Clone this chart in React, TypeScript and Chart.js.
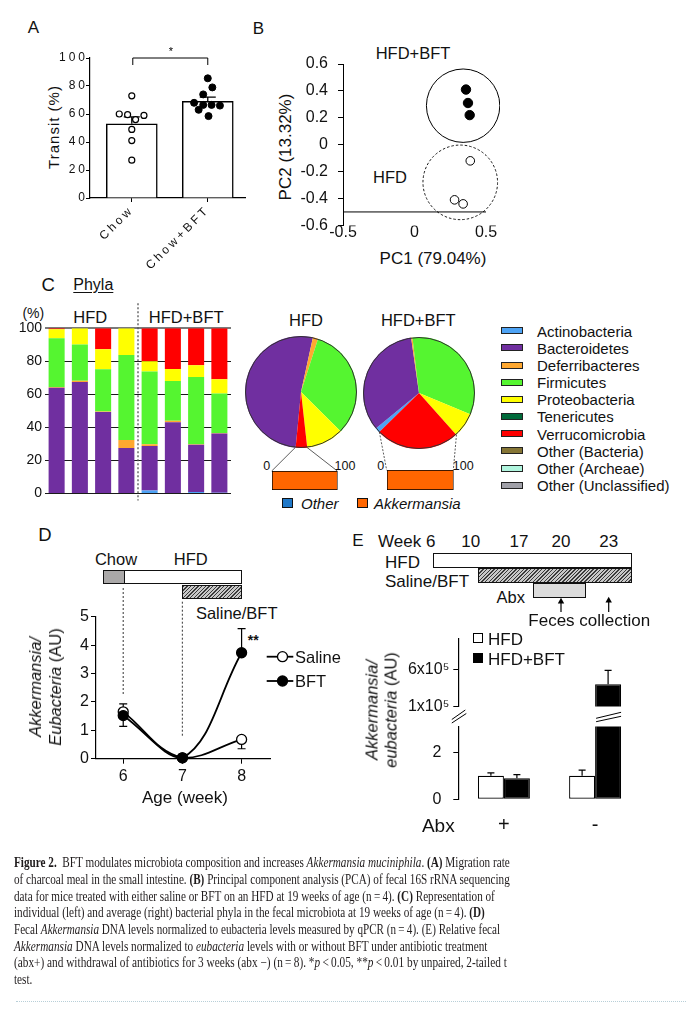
import React, { useEffect, useRef } from 'react';
import { Chart, registerables } from 'chart.js';

Chart.register(...registerables);

const SANS = '"Liberation Sans", Arial, Helvetica, sans-serif';
const SERIF = '"Liberation Serif", "Times New Roman", serif';
const INK = '#111111';
Chart.defaults.font.family = SANS;
Chart.defaults.color = INK;

// ---------------- DATA ----------------
// Panel A – transit (%)
const aCategories = ['Chow', 'Chow+BFT'];
const aMeans = [53, 69];
const aSem = [5, 3];
const aChowValues = [73, 60, 59.5, 56, 59, 49, 41, 27];
const aChowOffsets = [0, -0.165, -0.055, 0.05, 0.16, 0, 0, 0];
const aBftValues = [85.5, 74, 79, 68, 66.5, 66.5, 66, 63, 58.5];
const aBftOffsets = [0, -0.06, 0.06, -0.18, -0.06, 0.05, 0.16, -0.12, 0.01];
const aSignificance = [95, 100];

// Panel B – PCA
const bBftX = [0.36, 0.374, 0.386];
const bBftY = [0.41, 0.31, 0.22];
const bHfdX = [0.39, 0.28, 0.34];
const bHfdY = [-0.12, -0.41, -0.44];
const bClusterX = [0.34, 0.32];
const bClusterY = [0.29, -0.28];
const bAxisCross = -0.5;

// Panel C – phyla
const cSamples = ['HFD 1', 'HFD 2', 'HFD 3', 'HFD 4', 'HFD+BFT 1', 'HFD+BFT 2', 'HFD+BFT 3', 'HFD+BFT 4'];
const phyla = ['Actinobacteria', 'Bacteroidetes', 'Deferribacteres', 'Firmicutes', 'Proteobacteria', 'Tenericutes', 'Verrucomicrobia', 'Other (Bacteria)', 'Other (Archeae)', 'Other (Unclassified)'];
const phylaColors = ['#4da3f5', '#702fa0', '#ffa830', '#55f530', '#ffff00', '#006a3a', '#ff0000', '#857535', '#b0f5de', '#a0a0a8'];
const cActinobacteria = [0, 0, 0, 0, 1.8, 0.3, 1, 0.5];
const cBacteroidetes = [64, 67.5, 49.3, 27.6, 27, 42.8, 28.6, 35.9];
const cDeferribacteres = [0.5, 0.7, 0.4, 4.8, 1, 1, 0.3, 0.2];
const cFirmicutes = [29.5, 22, 25.6, 51.5, 44, 24, 40.7, 24];
const cProteobacteria = [5.5, 9.8, 12, 16.1, 6.2, 7.3, 7.1, 8.6];
const cTenericutes = [0, 0, 0, 0, 0, 0, 0, 0];
const cVerrucomicrobia = [0.5, 0, 12.7, 0, 20, 24.6, 22.3, 30.8];
const cOtherBacteria = [0, 0, 0, 0, 0, 0, 0, 0];
const cOtherArchaea = [0, 0, 0, 0, 0, 0, 0, 0];
const cOtherUnclassified = [0, 0, 0, 0, 0, 0, 0, 0];
const pieHfd = [0, 51.9, 1.5, 32.5, 10.8, 0, 3.3, 0, 0, 0];
const pieHfdBft = [1.4, 33.7, 0.4, 33.1, 7.2, 0, 24.2, 0, 0, 0];
const VERRUCO = 6;
const akkLabels = ['Verrucomicrobia'];
const akkHfdOther = [0];
const akkHfdAkkermansia = [100];
const akkBftOther = [0];
const akkBftAkkermansia = [100];

// Panel D – Akkermansia/Eubacteria by age
const dWeeks = [6, 7, 8];
const dSaline = [1.65, 0.03, 0.68];
const dSalineErr = [0.28, 0, 0.33];
const dSalineErrDir = [1, 0, -1];
const dBft = [1.52, 0.03, 3.73];
const dBftErr = [0.38, 0, 0.85];
const dBftErrDir = [-1, 0, 1];
const dXTicks = [6, 7, 8];
const dGuideTop = [2.25, 0.77];

// Panel E – Abx
const eGroups = ['+', '-'];
const eHfd = [1.0, 1.0];
const eHfdErr = [0.13, 0.24];
const eBft = [0.9, 400000];
const eBftErr = [0.15, 190000];
const eLowTicks = [0, 2];
const eHighTicks = [100000, 600000];
const eHighLabels = ['1x10\u2075', '6x10\u2075'];

// ---------------- LAYOUT ----------------
const BOX_A = { left: 20, top: 40, w: 235, h: 232 };
const BOX_B = { left: 250, top: 40, w: 250, h: 205 };
const BOX_C = { left: 0, top: 300, w: 240, h: 205 };
const BOX_P1 = { left: 244.7, top: 335.7, w: 112, h: 112 };
const BOX_P2 = { left: 363.3, top: 336.7, w: 112, h: 112 };
const BOX_K1 = { left: 269.7, top: 469, w: 70, h: 23 };
const BOX_K2 = { left: 384.7, top: 468.3, w: 71, h: 24 };
const BOX_D = { left: 20, top: 580, w: 260, h: 220 };
const BOX_EU = { left: 380, top: 625, w: 265, h: 95 };
const BOX_EL = { left: 380, top: 705, w: 265, h: 135 };

const fixW = (w: number) => (s: any) => { s.width = w; };
const fixH = (h: number) => (s: any) => { s.height = h; };
const noPlug = { legend: { display: false }, tooltip: { enabled: false } };

function drawErrors(chart: any, ds: number, values: number[], errs: number[], dirs: number[] | null, cap: number, lw = 1.2) {
  const meta = chart.getDatasetMeta(ds);
  const ys = chart.scales[meta.yAxisID];
  const ctx = chart.ctx;
  ctx.save();
  ctx.strokeStyle = '#000';
  ctx.lineWidth = lw;
  ctx.setLineDash([]);
  meta.data.forEach((el: any, i: number) => {
    const v = values[i];
    const e = errs[i];
    const d = dirs ? dirs[i] : 1;
    if (!e || !d) return;
    if (v < ys.min || v > ys.max) return;
    const y0 = ys.getPixelForValue(v);
    const y1 = ys.getPixelForValue(v + d * e);
    ctx.beginPath();
    ctx.moveTo(el.x, y0);
    ctx.lineTo(el.x, y1);
    ctx.moveTo(el.x - cap, y1);
    ctx.lineTo(el.x + cap, y1);
    ctx.stroke();
  });
  ctx.restore();
}

function Txt(p: any) {
  const tx = p.anchor === 'start' ? '0%' : p.anchor === 'end' ? '-100%' : '-50%';
  return (
    <div
      style={{
        position: 'absolute', left: p.x, top: p.y, whiteSpace: 'nowrap', lineHeight: 1,
        fontSize: p.size || 16, color: INK, fontFamily: SANS,
        transform: `translate(${tx}, -50%) rotate(${p.rot || 0}deg)`,
        ...(p.style || {}),
      }}
    >
      {p.children}
    </div>
  );
}

const Cv = ({ r, b }: any) => (
  <canvas ref={r} width={b.w} height={b.h} style={{ position: 'absolute', left: b.left, top: b.top, width: b.w, height: b.h }} />
);

const capTargets = [496, 496, 481, 471, 486, 473, 493];

export default function App() {
  const rA = useRef<any>(null);
  const rB = useRef<any>(null);
  const rC = useRef<any>(null);
  const rP1 = useRef<any>(null);
  const rP2 = useRef<any>(null);
  const rK1 = useRef<any>(null);
  const rK2 = useRef<any>(null);
  const rD = useRef<any>(null);
  const rEu = useRef<any>(null);
  const rEl = useRef<any>(null);
  const rO = useRef<any>(null);
  const capRefs = useRef<any[]>([]);

  useEffect(() => {
    const charts: any[] = [];
    const make = (cv: any, cfg: any) => { const ch = new Chart(cv, cfg); charts.push(ch); return ch; };

    // ---------- A ----------
    make(rA.current, {
      type: 'bar',
      data: {
        datasets: [
          { type: 'bar', data: aMeans.map((y, i) => ({ x: i, y })), backgroundColor: '#fff', borderColor: '#000', borderWidth: 1.5, barThickness: 51, grouped: false, order: 2 },
          { type: 'scatter', data: aChowValues.map((y, i) => ({ x: 0 + aChowOffsets[i], y })), pointRadius: 3, pointBackgroundColor: '#fff', pointBorderColor: '#000', pointBorderWidth: 1.2, order: 1 },
          { type: 'scatter', data: aBftValues.map((y, i) => ({ x: 1 + aBftOffsets[i], y })), pointRadius: 3.5, pointBackgroundColor: '#000', pointBorderColor: '#000', pointBorderWidth: 1, order: 0 },
        ],
      },
      options: {
        responsive: false, animation: false, events: [],
        layout: { padding: { top: 18, right: 10, left: 0, bottom: 0 } },
        scales: {
          x: {
            type: 'linear', offset: false, min: -0.55, max: 1.49,
            afterBuildTicks: (s: any) => { s.ticks = aCategories.map((_, i) => ({ value: i })); },
            grid: { drawOnChartArea: false, offset: false, tickLength: 4, color: '#000' },
            border: { color: '#000', width: 1.2 },
            ticks: { minRotation: 45, maxRotation: 45, autoSkip: false, font: { size: 12 }, color: INK, padding: 1, callback: (v: any) => aCategories[Math.round(Number(v))] },
            afterFit: fixH(74),
          },
          y: {
            min: 0, max: 100,
            ticks: { stepSize: 20, font: { size: 12 }, color: INK, padding: -2 },
            grid: { drawOnChartArea: false, tickLength: 4, color: '#000' },
            border: { color: '#000', width: 1.2 },
            afterFit: fixW(70),
          },
        },
        plugins: noPlug,
      },
      plugins: [
        { id: 'ls', beforeDraw(c: any) { c.ctx.letterSpacing = '3px'; } },
        { id: 'errA', afterDatasetDraw(c: any, args: any) { if (args.index === 0) drawErrors(c, 0, aMeans, aSem, null, 8, 1.3); } },
        {
          id: 'bracket',
          afterDraw(c: any) {
            const ctx = c.ctx;
            const x0 = c.scales.x.getPixelForValue(0);
            const x1 = c.scales.x.getPixelForValue(1);
            const yl = c.scales.y.getPixelForValue(aSignificance[0]);
            const yh = c.scales.y.getPixelForValue(aSignificance[1]);
            ctx.save();
            ctx.letterSpacing = '0px';
            ctx.strokeStyle = '#000'; ctx.lineWidth = 1;
            ctx.beginPath(); ctx.moveTo(x0 + 1, yl); ctx.lineTo(x0 + 1, yh); ctx.lineTo(x1, yh); ctx.lineTo(x1, yl); ctx.stroke();
            ctx.fillStyle = '#000'; ctx.font = `11px ${SANS}`; ctx.textAlign = 'center'; ctx.textBaseline = 'bottom';
            ctx.fillText('*', (x0 + x1) / 2 + 1, yh - 0.5);
            ctx.restore();
            ctx.letterSpacing = '0px';
          },
        },
      ],
    });

    // ---------- B ----------
    const fmt1 = (v: any) => String(Math.round(Number(v) * 10) / 10);
    make(rB.current, {
      type: 'scatter',
      data: {
        datasets: [
          { data: bBftX.map((x, i) => ({ x, y: bBftY[i] })), pointRadius: 4.7, pointBackgroundColor: '#000', pointBorderColor: '#000' },
          { data: bHfdX.map((x, i) => ({ x, y: bHfdY[i] })), pointRadius: 4.3, pointBackgroundColor: '#fff', pointBorderColor: '#000', pointBorderWidth: 1 },
        ],
      },
      options: {
        responsive: false, animation: false, events: [],
        layout: { padding: { top: 24, right: 14, left: 0, bottom: 0 } },
        scales: {
          x: {
            type: 'linear', min: -0.5, max: 0.5,
            ticks: { stepSize: 0.5, font: { size: 16 }, color: INK, padding: -2, callback: fmt1 },
            grid: { display: false, drawTicks: false }, border: { display: false },
            afterFit: fixH(19),
          },
          y: {
            min: -0.6, max: 0.6,
            ticks: { stepSize: 0.2, font: { size: 16 }, color: INK, padding: 10, callback: fmt1 },
            grid: { drawOnChartArea: false, tickLength: 5, color: '#000' },
            border: { color: '#000', width: 1 },
            afterFit: fixW(93),
          },
        },
        plugins: noPlug,
      },
      plugins: [{
        id: 'clusters',
        beforeDatasetsDraw(c: any) {
          const ctx = c.ctx; const xs = c.scales.x; const ys = c.scales.y;
          ctx.save();
          ctx.strokeStyle = '#000'; ctx.lineWidth = 1;
          const yAx = ys.getPixelForValue(bAxisCross);
          ctx.beginPath(); ctx.moveTo(c.chartArea.left, yAx); ctx.lineTo(c.chartArea.right, yAx); ctx.stroke();
          ctx.beginPath(); ctx.arc(xs.getPixelForValue(bClusterX[0]), ys.getPixelForValue(bClusterY[0]), 36.7, 0, Math.PI * 2); ctx.stroke();
          ctx.setLineDash([2.5, 2]); ctx.lineWidth = 0.9;
          ctx.beginPath(); ctx.arc(xs.getPixelForValue(bClusterX[1]), ys.getPixelForValue(bClusterY[1]), 37.3, 0, Math.PI * 2); ctx.stroke();
          ctx.restore();
        },
      }],
    });

    // ---------- C bars ----------
    const phylaSeries = [cActinobacteria, cBacteroidetes, cDeferribacteres, cFirmicutes, cProteobacteria, cTenericutes, cVerrucomicrobia, cOtherBacteria, cOtherArchaea, cOtherUnclassified];
    make(rC.current, {
      type: 'bar',
      data: {
        labels: cSamples,
        datasets: phylaSeries.map((d, i) => ({ label: phyla[i], data: d, backgroundColor: phylaColors[i], borderWidth: 0, barPercentage: 0.69, categoryPercentage: 1 })),
      },
      options: {
        responsive: false, animation: false, events: [],
        layout: { padding: { top: 28.3, right: 9, bottom: 9, left: 0 } },
        scales: {
          x: { stacked: true, display: false },
          y: {
            stacked: true, min: 0, max: 100,
            ticks: { stepSize: 20, font: { size: 14 }, color: INK, padding: 3 },
            grid: {
              drawTicks: false,
              color: (ctx: any) => (ctx.tick && ctx.tick.value === 100 ? '#7a7a7a' : '#1a1a1a'),
              lineWidth: (ctx: any) => (ctx.tick && ctx.tick.value === 100 ? 2 : 1),
            },
            border: { display: false },
            afterFit: fixW(45),
          },
        },
        plugins: noPlug,
      },
      plugins: [{
        id: 'divider',
        afterDatasetsDraw(c: any) {
          const xs = c.scales.x;
          const x = (xs.getPixelForValue(3) + xs.getPixelForValue(4)) / 2;
          const ctx = c.ctx;
          ctx.save(); ctx.strokeStyle = '#555'; ctx.lineWidth = 1.3; ctx.setLineDash([2, 2]);
          ctx.beginPath(); ctx.moveTo(x, c.chartArea.top - 25); ctx.lineTo(x, c.chartArea.bottom + 7); ctx.stroke();
          ctx.restore();
        },
      }],
    });

    // ---------- C pies ----------
    const pieOutline = {
      id: 'pieOutline',
      afterDatasetsDraw(c: any) {
        const arc = c.getDatasetMeta(0).data[0];
        const ctx = c.ctx;
        ctx.save(); ctx.beginPath(); ctx.arc(arc.x, arc.y, arc.outerRadius - 0.5, 0, Math.PI * 2);
        ctx.strokeStyle = '#333'; ctx.lineWidth = 1; ctx.stroke(); ctx.restore();
      },
    };
    const pieCfg = (vals: number[], rot: number) => ({
      type: 'pie',
      data: { labels: phyla, datasets: [{ data: vals, backgroundColor: phylaColors, borderWidth: 0 }] },
      options: { responsive: false, animation: false, events: [], rotation: rot, layout: { padding: 0 }, plugins: noPlug },
      plugins: [pieOutline],
    });
    const p1 = make(rP1.current, pieCfg(pieHfd, 185.5));
    const p2 = make(rP2.current, pieCfg(pieHfdBft, 225.5));

    const akkCfg = (other: number[], akk: number[], pad: any) => ({
      type: 'bar',
      data: {
        labels: akkLabels,
        datasets: [
          { label: 'Other', data: other, backgroundColor: '#1f78c8', borderColor: '#000', borderWidth: 1, borderSkipped: false, barPercentage: 1, categoryPercentage: 1 },
          { label: 'Akkermansia', data: akk, backgroundColor: '#ff6600', borderColor: '#000', borderWidth: 1, borderSkipped: false, barPercentage: 1, categoryPercentage: 1 },
        ],
      },
      options: {
        indexAxis: 'y', responsive: false, animation: false, events: [],
        layout: { padding: pad },
        scales: { x: { stacked: true, min: 0, max: 100, display: false }, y: { stacked: true, display: false } },
        plugins: noPlug,
      },
    });
    const k1 = make(rK1.current, akkCfg(akkHfdOther, akkHfdAkkermansia, { left: 2, right: 2.4, top: 2, bottom: 2 }));
    const k2 = make(rK2.current, akkCfg(akkBftOther, akkBftAkkermansia, { left: 2, right: 2.4, top: 2, bottom: 2 }));

    // ---------- D ----------
    const dChart = make(rD.current, {
      type: 'line',
      data: {
        datasets: [
          { label: 'Saline', order: 1, data: dWeeks.map((x, i) => ({ x, y: dSaline[i] })), borderColor: '#000', borderWidth: 1.8, tension: 0.4, pointRadius: 5, pointBackgroundColor: '#fff', pointBorderColor: '#000', pointBorderWidth: 1.3, clip: { left: 10, right: 10, top: 10, bottom: 6 } },
          { label: 'BFT', order: 0, data: dWeeks.map((x, i) => ({ x, y: dBft[i] })), borderColor: '#000', borderWidth: 1.8, tension: 0.4, pointRadius: 5, pointBackgroundColor: '#000', pointBorderColor: '#000', pointBorderWidth: 1.3, clip: { left: 10, right: 10, top: 10, bottom: 6 } },
        ],
      },
      options: {
        responsive: false, animation: false, events: [],
        layout: { padding: { top: 36.7, right: 10, left: 0, bottom: 0 } },
        scales: {
          x: {
            type: 'linear', min: 5.54, max: 8.48,
            afterBuildTicks: (s: any) => { s.ticks = dXTicks.map((v) => ({ value: v })); },
            ticks: { font: { size: 16 }, color: INK, padding: 3 },
            grid: { drawOnChartArea: false, tickLength: 5, color: '#000' },
            border: { color: '#000', width: 1.2 },
            afterFit: fixH(41.3),
          },
          y: {
            min: 0, max: 5,
            ticks: { stepSize: 1, font: { size: 16 }, color: INK, padding: 2 },
            grid: { drawOnChartArea: false, tickLength: 5, color: '#000' },
            border: { color: '#000', width: 1.2 },
            afterFit: fixW(76),
          },
        },
        plugins: noPlug,
      },
      plugins: [{
        id: 'errD',
        beforeDatasetsDraw(c: any) {
          drawErrors(c, 0, dSaline, dSalineErr, dSalineErrDir, 4, 1.2);
          drawErrors(c, 1, dBft, dBftErr, dBftErrDir, 4, 1.2);
        },
      }],
    });

    // ---------- E ----------
    const eDatasets = (clip: any) => [
      { label: 'HFD', data: eHfd, backgroundColor: '#fff', borderColor: '#000', borderWidth: 1.2, borderSkipped: false, barPercentage: 1, categoryPercentage: 0.57, clip },
      { label: 'HFD+BFT', data: eBft, backgroundColor: '#000', borderColor: '#000', borderWidth: 1.2, borderSkipped: false, barPercentage: 1, categoryPercentage: 0.57, clip },
    ];
    make(rEu.current, {
      type: 'bar',
      data: { labels: eGroups, datasets: eDatasets({ left: 5, right: 5, top: 5, bottom: 0 }) },
      options: {
        responsive: false, animation: false, events: [],
        layout: { padding: { top: 10, right: 4.3, bottom: 13.3, left: 0 } },
        scales: {
          x: { display: false },
          y: {
            min: 100000, max: 1020000,
            afterBuildTicks: (s: any) => { s.ticks = eHighTicks.map((v) => ({ value: v })); },
            ticks: { font: { size: 16 }, color: INK, padding: 4, callback: (v: any) => eHighLabels[eHighTicks.indexOf(Number(v))] },
            grid: { drawOnChartArea: false, tickLength: 5, color: '#000' },
            border: { color: '#000', width: 1.2 },
            afterFit: fixW(78.3),
          },
        },
        plugins: noPlug,
      },
      plugins: [{ id: 'errEu', afterDatasetsDraw(c: any) { drawErrors(c, 0, eHfd, eHfdErr, null, 3.5); drawErrors(c, 1, eBft, eBftErr, null, 3.5); } }],
    });
    const eLow = make(rEl.current, {
      type: 'bar',
      data: { labels: eGroups, datasets: eDatasets({ left: 5, right: 5, top: 0, bottom: 2 }) },
      options: {
        responsive: false, animation: false, events: [],
        layout: { padding: { top: 16.7, right: 4.3, bottom: 0, left: 0 } },
        scales: {
          x: {
            grid: { display: false, drawTicks: false }, border: { display: false },
            ticks: { font: { size: 20 }, color: INK, padding: 14 },
            afterFit: fixH(40.7),
          },
          y: {
            min: 0, max: 3.1,
            afterBuildTicks: (s: any) => { s.ticks = eLowTicks.map((v) => ({ value: v })); },
            ticks: { font: { size: 16 }, color: INK, padding: 12 },
            grid: { drawOnChartArea: false, tickLength: 5, color: '#000' },
            border: { color: '#000', width: 1.2 },
            afterFit: fixW(78.3),
          },
        },
        plugins: noPlug,
      },
      plugins: [{ id: 'errEl', afterDatasetsDraw(c: any) { drawErrors(c, 0, eHfd, eHfdErr, null, 3.5); drawErrors(c, 1, eBft, eBftErr, null, 3.5); } }],
    });

    // ---------- overlay ----------
    const ov = rO.current;
    const dpr = window.devicePixelRatio || 1;
    ov.width = 686 * dpr; ov.height = 1012 * dpr;
    const g = ov.getContext('2d');
    g.setTransform(dpr, 0, 0, dpr, 0, 0);
    g.clearRect(0, 0, 686, 1012);
    const seg = (x1: number, y1: number, x2: number, y2: number) => { g.beginPath(); g.moveTo(x1, y1); g.lineTo(x2, y2); g.stroke(); };
    const connect = (pie: any, pb: any, bar: any, bb: any, dash: boolean) => {
      const arc = pie.getDatasetMeta(0).data[VERRUCO];
      const r = arc.outerRadius;
      const sx = pb.left + arc.x + r * Math.cos(arc.startAngle);
      const sy = pb.top + arc.y + r * Math.sin(arc.startAngle);
      const ex = pb.left + arc.x + r * Math.cos(arc.endAngle);
      const ey = pb.top + arc.y + r * Math.sin(arc.endAngle);
      const xs = bar.scales.x;
      const top = bb.top + bar.chartArea.top;
      g.save(); g.strokeStyle = '#333'; g.lineWidth = 0.8; g.setLineDash(dash ? [2, 1.5] : []);
      seg(ex, ey, bb.left + xs.getPixelForValue(0), top);
      seg(sx, sy, bb.left + xs.getPixelForValue(100), top);
      g.restore();
    };
    connect(p1, BOX_P1, k1, BOX_K1, false);
    connect(p2, BOX_P2, k2, BOX_K2, true);

    // D guide lines
    g.save(); g.strokeStyle = '#555'; g.lineWidth = 1.2; g.setLineDash([2, 2]);
    seg(BOX_D.left + dChart.scales.x.getPixelForValue(dXTicks[0]), 588, BOX_D.left + dChart.scales.x.getPixelForValue(dXTicks[0]), BOX_D.top + dChart.scales.y.getPixelForValue(dGuideTop[0]));
    seg(BOX_D.left + dChart.scales.x.getPixelForValue(dXTicks[1]), 601.7, BOX_D.left + dChart.scales.x.getPixelForValue(dXTicks[1]), BOX_D.top + dChart.scales.y.getPixelForValue(dGuideTop[1]));
    g.restore();

    // E axis break
    const ax = BOX_EL.left + eLow.chartArea.left;
    const el = eLow.getDatasetMeta(1).data[1];
    const bx0 = BOX_EL.left + el.x - el.width / 2;
    const bx1 = BOX_EL.left + el.x + el.width / 2;
    g.save(); g.strokeStyle = '#000'; g.lineWidth = 1;
    seg(ax - 6.5, 719.5, ax + 7, 710); seg(ax - 6.5, 723, ax + 8, 713.5);
    seg(bx0 + 1, 718.3, bx1, 712.3); seg(bx0 + 1, 721.7, bx1, 716.3);
    g.restore();

    // caption fitting
    const scales: number[] = [];
    capRefs.current.forEach((d: any, i: number) => {
      if (!d || i >= capTargets.length) return;
      const w = d.offsetWidth;
      const s = capTargets[i] / w;
      scales.push(s);
      d.style.transform = `translateY(-50%) scaleX(${s})`;
    });
    const avg = scales.reduce((a, b) => a + b, 0) / Math.max(scales.length, 1);
    const last = capRefs.current[capTargets.length];
    if (last) last.style.transform = `translateY(-50%) scaleX(${avg})`;

    return () => { charts.forEach((c) => c.destroy()); };
  }, []);

  const hatch = 'repeating-linear-gradient(135deg, #3a3a3a 0px, #3a3a3a 1px, #c8c8c8 1px, #c8c8c8 2.6px)';
  const dots = 'radial-gradient(circle, #8a8a8a 0.45px, transparent 0.6px)';
  const boxSt = (l: number, t: number, w: number, h: number, bg: string, extra: any = {}) => ({
    position: 'absolute' as const, left: l, top: t, width: w, height: h, boxSizing: 'border-box' as const,
    border: '1px solid #111', background: bg, ...extra,
  });

  const captionLines = [
    <><b>Figure 2.</b>{'\u2002'}BFT modulates microbiota composition and increases <i>Akkermansia muciniphila</i>. <b>(A)</b> Migration rate</>,
    <>of charcoal meal in the small intestine. <b>(B)</b> Principal component analysis (PCA) of fecal 16S rRNA sequencing</>,
    <>data for mice treated with either saline or BFT on an HFD at 19 weeks of age (n{'\u2009'}={'\u2009'}4). <b>(C)</b> Representation of</>,
    <>individual (left) and average (right) bacterial phyla in the fecal microbiota at 19 weeks of age (n{'\u2009'}={'\u2009'}4). <b>(D)</b></>,
    <>Fecal <i>Akkermansia</i> DNA levels normalized to eubacteria levels measured by qPCR (n{'\u2009'}={'\u2009'}4). (E) Relative fecal</>,
    <><i>Akkermansia</i> DNA levels normalized to <i>eubacteria</i> levels with or without BFT under antibiotic treatment</>,
    <>(abx+) and withdrawal of antibiotics for 3 weeks (abx {'\u2212'}) (n{'\u2009'}={'\u2009'}8). *<i>p</i>{'\u2009'}&lt;{'\u2009'}0.05, **<i>p</i>{'\u2009'}&lt;{'\u2009'}0.01 by unpaired, 2-tailed t</>,
    <>test.</>,
  ];

  return (
    <div style={{ position: 'absolute', left: 0, top: 0, width: 686, height: 1012, background: '#fff', overflow: 'hidden', fontFamily: SANS, color: INK }}>
      {/* ---- A ---- */}
      <Txt x={33.3} y={27} size={17}>A</Txt>
      <Txt x={53.3} y={126.7} size={15} rot={-90} style={{ letterSpacing: '1px' }}>Transit (%)</Txt>
      <Cv r={rA} b={BOX_A} />

      {/* ---- B ---- */}
      <Txt x={258.3} y={28.3} size={17}>B</Txt>
      <Txt x={413} y={53} size={16.5}>HFD+BFT</Txt>
      <Txt x={390} y={177} size={16.5}>HFD</Txt>
      <Txt x={285} y={147} size={17} rot={-90}>PC2 (13.32%)</Txt>
      <Txt x={433} y={258} size={17}>PC1 (79.04%)</Txt>
      <Cv r={rB} b={BOX_B} />

      {/* ---- C ---- */}
      <Txt x={48.3} y={285} size={18.5}>C</Txt>
      <Txt x={93.3} y={285} size={16} style={{ textDecoration: 'underline', textUnderlineOffset: '2px' }}>Phyla</Txt>
      <Txt x={33.3} y={313.3} size={14}>(%)</Txt>
      <Txt x={90.3} y={316.7} size={16.5}>HFD</Txt>
      <Txt x={186.2} y={316.7} size={16.5}>HFD+BFT</Txt>
      <Cv r={rC} b={BOX_C} />
      <Txt x={306} y={320} size={16.5}>HFD</Txt>
      <Txt x={418.3} y={320} size={16.5}>HFD+BFT</Txt>
      <Cv r={rP1} b={BOX_P1} />
      <Cv r={rP2} b={BOX_P2} />
      <Txt x={266.7} y={465.7} size={12.5}>0</Txt>
      <Txt x={345} y={465.7} size={12.5}>100</Txt>
      <Txt x={380.7} y={465.7} size={12.5}>0</Txt>
      <Txt x={463.3} y={465.7} size={12.5}>100</Txt>
      <Cv r={rK1} b={BOX_K1} />
      <Cv r={rK2} b={BOX_K2} />
      <div style={boxSt(281.7, 498.3, 11.6, 10, '#1f78c8')} />
      <Txt x={301} y={503.3} size={15} anchor="start" style={{ fontStyle: 'italic' }}>Other</Txt>
      <div style={boxSt(356.7, 498.3, 11.6, 10, '#ff6600')} />
      <Txt x={374} y={503.3} size={15} anchor="start" style={{ fontStyle: 'italic' }}>Akkermansia</Txt>
      {phyla.map((name, i) => (
        <React.Fragment key={name}>
          <div style={boxSt(501, 327.3 + i * 17.15, 22, 7, phylaColors[i], { border: '1px solid #222' })} />
          <Txt x={537} y={330.7 + i * 17.15} size={15} anchor="start">{name}</Txt>
        </React.Fragment>
      ))}

      {/* ---- D ---- */}
      <Txt x={45} y={535} size={18.5}>D</Txt>
      <Txt x={116} y={559.3} size={16.5}>Chow</Txt>
      <Txt x={190.7} y={559.3} size={16.5}>HFD</Txt>
      <div style={boxSt(103.3, 570, 21.5, 14.3, '#aaa8a8')} />
      <div style={boxSt(123.8, 570, 118.5, 14.3, '#fff')} />
      <div style={boxSt(182.3, 585, 59.4, 14.3, hatch)} />
      <Txt x={236.7} y={613.3} size={16.5}>Saline/BFT</Txt>
      <Txt x={253.3} y={640} size={14} style={{ fontWeight: 'bold' }}>**</Txt>
      <Cv r={rD} b={BOX_D} />
      <div style={{ position: 'absolute', left: 45, top: 686.7, transform: 'translate(-50%, -50%) rotate(-90deg)', whiteSpace: 'nowrap', fontSize: 16.5, lineHeight: '20px', textAlign: 'center', color: INK }}>
        <div><i>Akkermansia/</i></div>
        <div><i>Eubacteria</i> (AU)</div>
      </div>
      <Txt x={185} y={796.7} size={17}>Age (week)</Txt>
      <svg style={{ position: 'absolute', left: 264, top: 645 }} width={32} height={46}>
        <line x1={2.7} y1={11.7} x2={29.3} y2={11.7} stroke="#000" strokeWidth={1.8} />
        <circle cx={18.5} cy={11.7} r={5} fill="#fff" stroke="#000" strokeWidth={1.3} />
        <line x1={2.7} y1={36} x2={29.3} y2={36} stroke="#000" strokeWidth={1.8} />
        <circle cx={18.5} cy={36} r={5} fill="#000" stroke="#000" strokeWidth={1.3} />
      </svg>
      <Txt x={295} y={656.7} size={16.5} anchor="start">Saline</Txt>
      <Txt x={295} y={681} size={16.5} anchor="start">BFT</Txt>

      {/* ---- E ---- */}
      <Txt x={358} y={540} size={17}>E</Txt>
      <Txt x={406.7} y={540.7} size={17}>Week 6</Txt>
      <Txt x={470.7} y={540.7} size={17}>10</Txt>
      <Txt x={519} y={540.7} size={17}>17</Txt>
      <Txt x={561} y={540.7} size={17}>20</Txt>
      <Txt x={608.7} y={540.7} size={17}>23</Txt>
      <Txt x={385} y={561.7} size={17} anchor="start">HFD</Txt>
      <div style={boxSt(433.3, 553.3, 198.4, 14.4, '#fff')} />
      <Txt x={385} y={581} size={17} anchor="start">Saline/BFT</Txt>
      <div style={boxSt(478.3, 568.3, 154, 15, hatch)} />
      <Txt x={510.8} y={597.3} size={16.5}>Abx</Txt>
      <div style={boxSt(533.3, 583.3, 52.7, 15, `${dots} 0 0 / 2px 2px, #dcdcdc`)} />
      <svg style={{ position: 'absolute', left: 0, top: 0, pointerEvents: 'none' }} width={686} height={1012}>
        <line x1={561} y1={612} x2={561} y2={602} stroke="#000" strokeWidth={1.2} />
        <polygon points="557.8,603.5 564.2,603.5 561,597.8" fill="#000" />
        <line x1={608.7} y1={612} x2={608.7} y2={601} stroke="#000" strokeWidth={1.2} />
        <polygon points="605.5,602.5 611.9,602.5 608.7,596.8" fill="#000" />
      </svg>
      <Txt x={528.3} y={620} size={17} anchor="start">Feces collection</Txt>
      <div style={boxSt(473.3, 633.3, 10, 10, '#fff', { border: '1.2px solid #000' })} />
      <Txt x={488} y={638.5} size={17} anchor="start">HFD</Txt>
      <div style={boxSt(473.3, 653.3, 10, 10, '#000', { border: '1.2px solid #000' })} />
      <Txt x={488} y={658.7} size={17} anchor="start">HFD+BFT</Txt>
      <Cv r={rEu} b={BOX_EU} />
      <Cv r={rEl} b={BOX_EL} />
      <div style={{ position: 'absolute', left: 381, top: 710, transform: 'translate(-50%, -50%) rotate(-90deg)', whiteSpace: 'nowrap', fontSize: 16.5, lineHeight: '18.5px', textAlign: 'center', color: INK }}>
        <div><i>Akkermansia/</i></div>
        <div><i>eubacteria</i> (AU)</div>
      </div>
      <Txt x={438.3} y={825} size={19}>Abx</Txt>

      {/* ---- caption ---- */}
      {captionLines.map((ln, i) => (
        <div
          key={i}
          ref={(el) => { capRefs.current[i] = el; }}
          style={{
            position: 'absolute', left: 14, top: 863.3 + i * 16.67, whiteSpace: 'nowrap', fontFamily: SERIF,
            fontSize: 13.6, lineHeight: 1, color: '#1f1b1c', transformOrigin: '0 50%', transform: 'translateY(-50%)',
          }}
        >
          {ln}
        </div>
      ))}
      <div style={{ position: 'absolute', left: 16, top: 1001, width: 670, height: 0, borderTop: '1.5px dotted #b8cfd8' }} />

      <canvas ref={rO} style={{ position: 'absolute', left: 0, top: 0, width: 686, height: 1012, pointerEvents: 'none' }} />
    </div>
  );
}
